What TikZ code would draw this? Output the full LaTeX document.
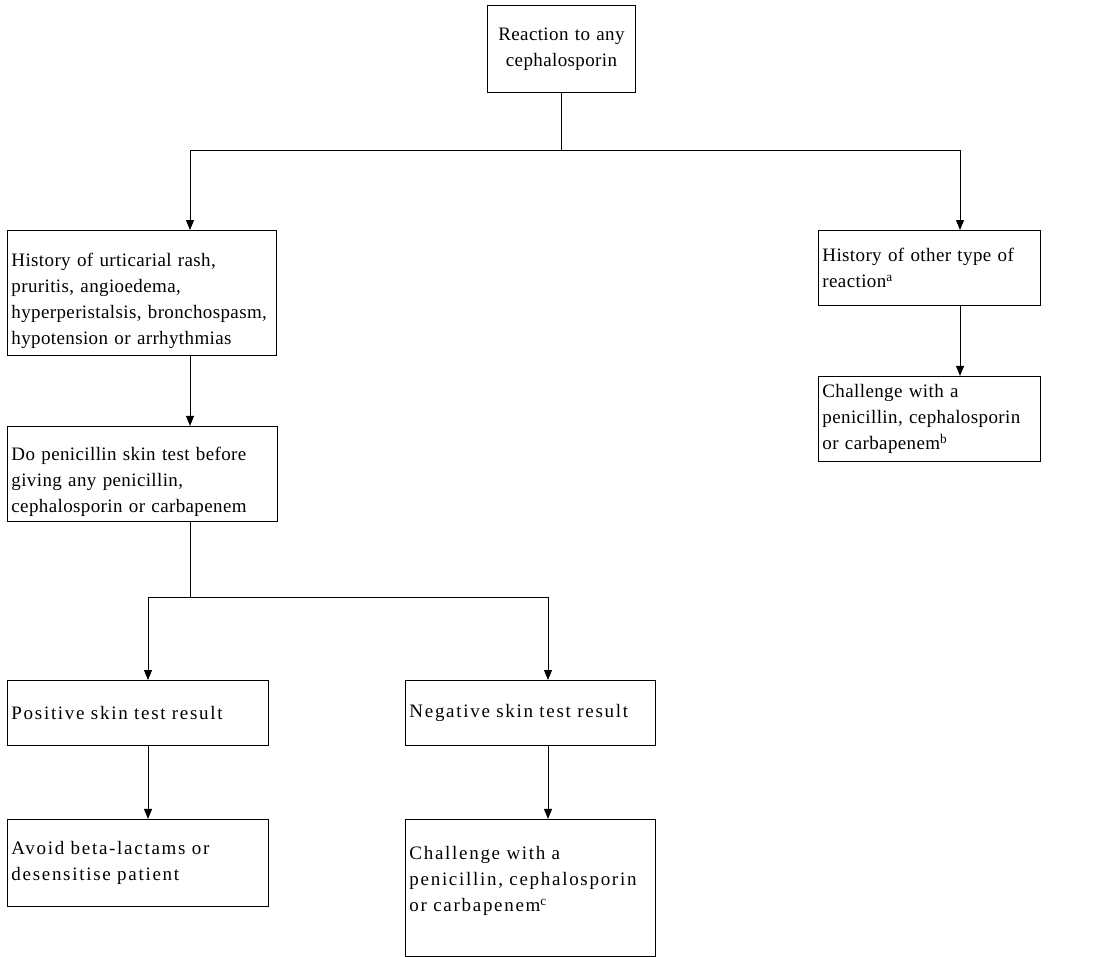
\documentclass[tikz,border=0pt]{standalone}
\usepackage{fontspec}
\setmainfont{Liberation Serif}[LetterSpace=2]
\usepackage{tikz}
\usetikzlibrary{arrows.meta, positioning}

\begin{document}
\begin{tikzpicture}[
    x=1pt, y=-1pt,
    box/.style={draw, rectangle, anchor=north west, align=left, inner sep=4pt, line width=0.9pt, font=\fontsize{19}{26}\selectfont},
    widebox/.style={box, font=\fontsize{19}{26}\selectfont\addfontfeatures{LetterSpace=9}},
    arrow/.style={-{Triangle[length=10pt, width=8pt]}, line width=0.9pt},
    line/.style={line width=0.9pt}
]
\useasboundingbox (0,0) rectangle (1107,956);

% top of the chart
\node[box, align=center, text width=140pt, minimum height=87pt] (react) at (487,5) {Reaction to any\\cephalosporin};

% left branch
\node[box, text width=261pt, minimum height=125pt] (urtic) at (7,230) {\mbox{}\\[4pt]History of urticarial rash,\\pruritis, angioedema,\\hyperperistalsis, bronchospasm,\\hypotension or arrhythmias};
\node[box, text width=262pt, minimum height=95pt, below right=70pt and 0pt of urtic.south west] (skintest) {\mbox{}\\[4pt]Do penicillin skin test before\\giving any penicillin,\\cephalosporin or carbapenem};
\node[widebox, text width=253pt, minimum height=65pt] (positive) at (7,680) {Positive skin test result};
\node[widebox, text width=242pt, minimum height=65pt] (negative) at (405,680) {Negative skin test result};
\node[widebox, text width=253pt, minimum height=87pt, below right=73pt and 0pt of positive.south west] (avoid) {Avoid beta-lactams or\\desensitise patient};
\node[widebox, text width=242pt, minimum height=137pt, below right=73pt and 0pt of negative.south west] (challengec) {Challenge with a\\penicillin, cephalosporin\\or carbapenem\textsuperscript{c}\\[-8pt]\mbox{}};

% right branch
\node[box, text width=214pt, minimum height=75pt] (other) at (818,230) {History of other type of\\reaction\textsuperscript{a}};
\node[box, text width=214pt, minimum height=85pt, below right=70pt and 0pt of other.south west] (challengeb) {Challenge with a\\penicillin, cephalosporin\\or carbapenem\textsuperscript{b}};

% junctions
\coordinate (splitl) at (190,150);
\coordinate (splitr) at (960,150);
\coordinate (testl) at (148,597);
\coordinate (testr) at (548,597);

\draw[line] (react.south) -- (react.south |- splitl);
\draw[line] (splitl) -- (splitr);
\draw[arrow] (splitl) -- (splitl |- urtic.north);
\draw[arrow] (splitr) -- (splitr |- other.north);
\draw[arrow] (splitr |- other.south) -- (splitr |- challengeb.north);
\draw[arrow] (splitl |- urtic.south) -- (splitl |- skintest.north);
\draw[line] (splitl |- skintest.south) -- (splitl |- testl);
\draw[line] (testl) -- (testr);
\draw[arrow] (testl) -- (testl |- positive.north);
\draw[arrow] (testr) -- (testr |- negative.north);
\draw[arrow] (testl |- positive.south) -- (testl |- avoid.north);
\draw[arrow] (testr |- negative.south) -- (testr |- challengec.north);

\end{tikzpicture}
\end{document}
